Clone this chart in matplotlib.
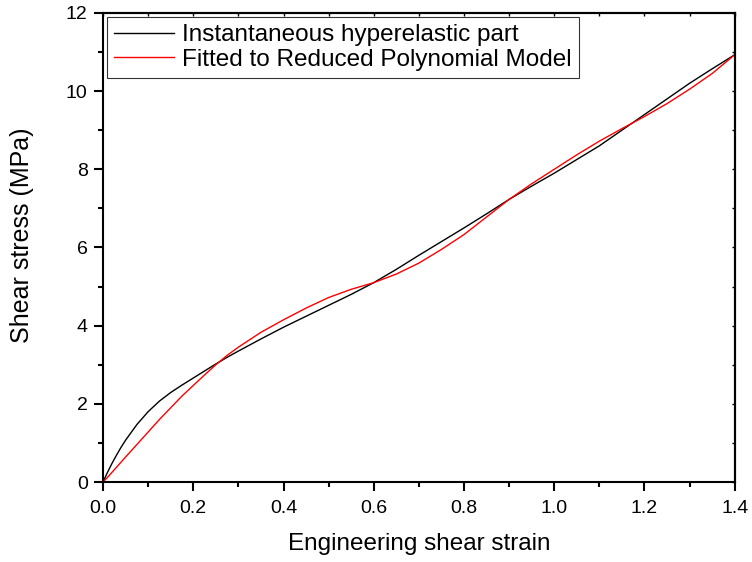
import matplotlib
matplotlib.use("Agg")
import matplotlib.pyplot as plt
from matplotlib.ticker import MultipleLocator

# ========================= data ==============================================

strain = [0.0, 0.01, 0.02, 0.03, 0.04, 0.05, 0.075, 0.1, 0.125, 0.15, 0.175,
          0.2, 0.225, 0.25, 0.275, 0.3, 0.35, 0.4, 0.45, 0.5, 0.55, 0.6, 0.65,
          0.7, 0.75, 0.8, 0.85, 0.9, 0.95, 1.0, 1.05, 1.1, 1.15, 1.2, 1.25,
          1.3, 1.35, 1.4]

hyperelastic = [0.0, 0.25, 0.48, 0.69, 0.89, 1.07, 1.47, 1.8, 2.07, 2.29, 2.48,
                2.66, 2.84, 3.02, 3.19, 3.35, 3.66, 3.96, 4.24, 4.52, 4.8, 5.1,
                5.44, 5.8, 6.15, 6.5, 6.86, 7.23, 7.57, 7.9, 8.25, 8.6, 9.0,
                9.4, 9.8, 10.2, 10.57, 10.93]

reduced_poly = [0.0, 0.12, 0.25, 0.38, 0.51, 0.64, 0.96, 1.28, 1.6, 1.9, 2.2,
                2.47, 2.74, 3.0, 3.24, 3.45, 3.83, 4.15, 4.45, 4.72, 4.93, 5.1,
                5.32, 5.6, 5.95, 6.33, 6.78, 7.23, 7.63, 8.0, 8.37, 8.72, 9.04,
                9.35, 9.68, 10.05, 10.45, 10.93]

labels = ["Instantaneous hyperelastic part", "Fitted to Reduced Polynomial Model"]

# ========================= plot ==============================================

plt.rcParams['font.family'] = ['Liberation Sans', 'DejaVu Sans']

fig = plt.figure(figsize=(7.52, 5.62), dpi=100)
ax = fig.add_axes([0.137, 0.1423, 0.840, 0.8347])

ax.plot(strain, hyperelastic, '-', color='black', linewidth=1.0, label=labels[0])
ax.plot(strain, reduced_poly, '-', color='red', linewidth=1.0, label=labels[1])

# configure axes

ax.set_xlim([0, 1.4])
ax.set_ylim([0, 12])
ax.xaxis.set_major_locator(MultipleLocator(0.2))
ax.xaxis.set_minor_locator(MultipleLocator(0.1))
ax.yaxis.set_major_locator(MultipleLocator(2))
ax.yaxis.set_minor_locator(MultipleLocator(1))
ax.set_xticklabels(["{0:.1f}".format(t) for t in ax.get_xticks()])

for spine in ax.spines.values():
    spine.set_linewidth(1.5)

ax.tick_params(which='both', direction='out', width=1.5, labelsize=14,
               top=False, right=False)
ax.tick_params(which='major', length=6.5)
ax.tick_params(which='minor', length=3.5)
ax.tick_params(axis='x', which='major', pad=6.5)
ax.tick_params(axis='y', which='major', pad=4.5)

# small inward ticks on the top and right frame
sec_x = ax.secondary_xaxis('top')
sec_x.xaxis.set_major_locator(MultipleLocator(0.1))
sec_x.tick_params(direction='in', length=2, width=1.0, labeltop=False)
sec_y = ax.secondary_yaxis('right')
sec_y.yaxis.set_major_locator(MultipleLocator(1))
sec_y.tick_params(direction='in', length=2, width=1.0, labelright=False)
sec_x.spines['top'].set_linewidth(1.5)
sec_y.spines['right'].set_linewidth(1.5)

ax.set_xlabel('Engineering shear strain', fontsize=17.5)
ax.xaxis.set_label_coords(0.5, -0.108)
ax.set_ylabel('Shear stress (MPa)', fontsize=18)
ax.yaxis.set_label_coords(-0.109, 0.527)

leg = ax.legend(loc='upper left', fontsize=17.5, frameon=True, fancybox=False,
                edgecolor='black', handlelength=2.45, handletextpad=0.33,
                borderaxespad=0.17, borderpad=0.3, labelspacing=0.1)
leg.get_frame().set_linewidth(0.8)

plt.savefig('out.png', dpi=100)
